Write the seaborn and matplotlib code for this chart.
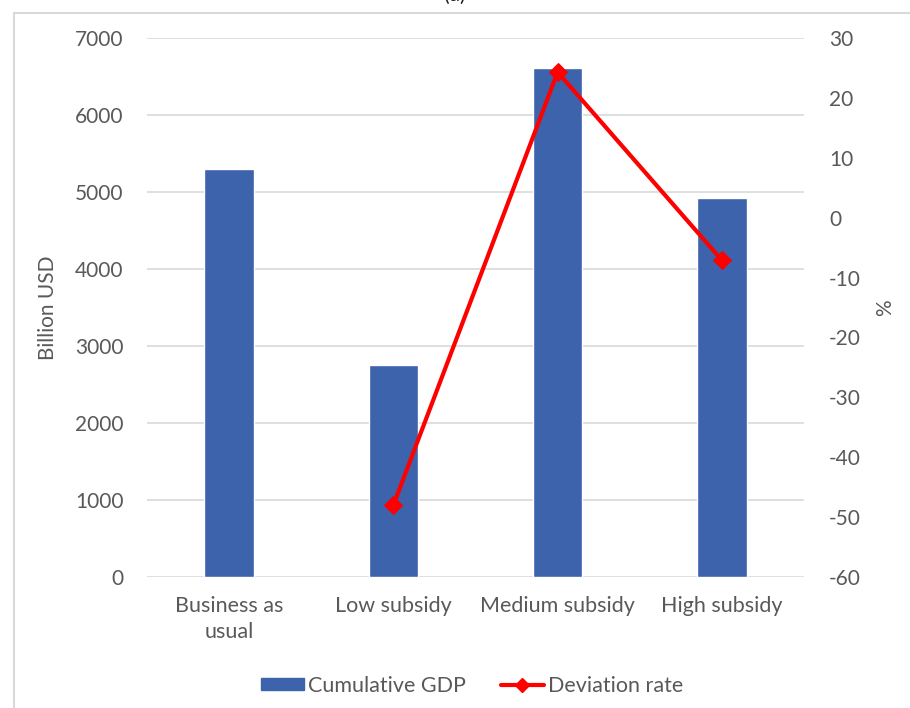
import matplotlib
matplotlib.use("Agg")
import matplotlib.pyplot as plt
from matplotlib.lines import Line2D
from matplotlib.patches import Patch
import seaborn as sns
import pandas as pd
import numpy as np

# Scenario data
scenarios = ["Business as usual", "Low subsidy", "Medium subsidy", "High subsidy"]
tick_labels = ["Business as\nusual", "Low subsidy", "Medium subsidy", "High subsidy"]
cumulative_gdp = [5300, 2750, 6610, 4920]          # Billion USD
deviation_scenarios = ["Low subsidy", "Medium subsidy", "High subsidy"]
deviation_rate = [-48.0, 24.3, -7.1]                # % vs business as usual

bar_color = "#3C63AC"
line_color = "#FF0000"
text_color = "#595959"
grid_color = "#D9D9D9"

sns.set_theme(style="white")
plt.rcParams["font.family"] = ["Lato", "DejaVu Sans"]
plt.rcParams["axes.unicode_minus"] = False

fig = plt.figure(figsize=(9.1, 7.08), dpi=100)
ax = fig.add_axes([147 / 910, 1 - 577 / 708, (804 - 147) / 910, (577 - 38) / 708])

gdp_df = pd.DataFrame({"scenario": scenarios, "gdp": cumulative_gdp})
sns.barplot(data=gdp_df, x="scenario", y="gdp", order=scenarios, color=bar_color,
            saturation=1, width=0.30, ax=ax, zorder=2)
ax.set_xlim(-0.5, len(scenarios) - 0.5)
ax.set_ylim(0, 7000)
ax.set_yticks(np.arange(0, 7001, 1000))
ax.yaxis.grid(True, color=grid_color, linewidth=1.2, zorder=0)
ax.set_axisbelow(True)
for s in ax.spines.values():
    s.set_visible(False)
ax.set_xticks(range(len(scenarios)))
ax.set_xticklabels(tick_labels, linespacing=1.35)
ax.tick_params(axis="x", length=0, pad=14, labelsize=15.5, labelcolor=text_color)
ax.tick_params(axis="y", length=0, pad=17, labelsize=15, labelcolor=text_color)
ax.set_xlabel("")
ax.set_ylabel("Billion USD", fontsize=15, color=text_color, labelpad=12)

# Deviation rate on the secondary axis
ax2 = ax.twinx()
dev_df = pd.DataFrame({
    "pos": [scenarios.index(s) for s in deviation_scenarios],
    "rate": deviation_rate,
})
sns.lineplot(data=dev_df, x="pos", y="rate", color=line_color, linewidth=3,
             marker="D", markersize=9, markeredgecolor=line_color, ax=ax2,
             zorder=3)
ax2.set_ylim(-60, 30)
ax2.set_yticks(np.arange(-60, 31, 10))
ax2.set_xlim(-0.5, len(scenarios) - 0.5)
for s in ax2.spines.values():
    s.set_visible(False)
ax2.tick_params(axis="y", length=0, pad=18, labelsize=15, labelcolor=text_color)
ax2.set_xlabel("")
ax2.set_ylabel("%", fontsize=15, color=text_color, labelpad=10)
ax2.grid(False)

# Legend below the plot
handles = [
    Patch(facecolor=bar_color, edgecolor=bar_color, label="Cumulative GDP"),
    Line2D([0], [0], color=line_color, linewidth=3, marker="D", markersize=7,
           label="Deviation rate"),
]
leg = fig.legend(handles=handles, loc="center", bbox_to_anchor=(472 / 910, 1 - 686 / 708),
                 ncol=2, frameon=False, fontsize=15.5, handlelength=2.0,
                 handleheight=0.5, handletextpad=0.2, columnspacing=1.6)
for t in leg.get_texts():
    t.set_color(text_color)

# Panel label and frame edges
fig.text(455 / 910, 1 - 1 / 708, "(a)", ha="center", va="baseline",
         fontsize=15, color="#222222")
fig.add_artist(Line2D([14 / 910, 14 / 910], [0, 1 - 13 / 708],
                      color=grid_color, linewidth=1.5, transform=fig.transFigure))
fig.add_artist(Line2D([14 / 910, 1], [1 - 13 / 708, 1 - 13 / 708],
                      color=grid_color, linewidth=1.5, transform=fig.transFigure))

fig.savefig("out.png", dpi=100, facecolor="white")
